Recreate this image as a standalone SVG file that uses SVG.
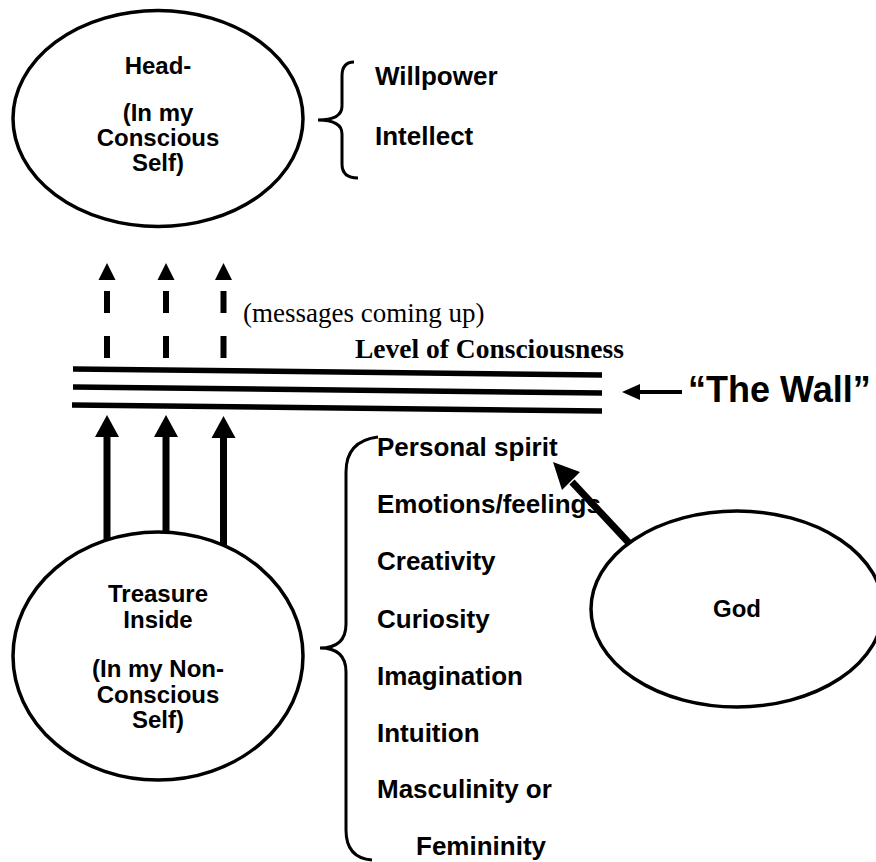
<svg xmlns="http://www.w3.org/2000/svg" width="876" height="862" viewBox="0 0 876 862">
<style>
.node{fill:#fff;stroke:#000;stroke-width:3.5}
.t{font-family:"Liberation Sans",Arial,sans-serif;font-weight:bold;font-size:24px;fill:#000}
.c{text-anchor:middle}
.l{font-size:26px}
.serif{font-family:"Liberation Serif","Times New Roman",serif;fill:#000}
.brace{fill:none;stroke:#000;stroke-width:3}
.wall{stroke:#000;stroke-width:5.5}
.shaft{stroke:#000;stroke-width:7}
.dash{stroke:#000;stroke-width:6}
</style>
<rect width="876" height="862" fill="#fff"/>
<g id="connectors">
  <line class="wall" x1="73" y1="369" x2="602" y2="375"/>
  <line class="wall" x1="73" y1="387" x2="602" y2="393"/>
  <line class="wall" x1="72" y1="405" x2="602" y2="411"/>
  <line class="shaft" x1="107" y1="435" x2="107" y2="545"/>
  <polygon points="107,415 95,437 119,437"/>
  <line class="shaft" x1="166" y1="435" x2="166" y2="540"/>
  <polygon points="166,415 154,437 178,437"/>
  <line class="shaft" x1="223.5" y1="435" x2="223.5" y2="550"/>
  <polygon points="223.5,416 211.5,438 235.5,438"/>
  <line class="dash" x1="107" y1="291" x2="107" y2="313"/>
  <line class="dash" x1="107" y1="336" x2="107" y2="358"/>
  <polygon points="107,263 98.5,280 115.5,280"/>
  <line class="dash" x1="166" y1="291" x2="166" y2="313"/>
  <line class="dash" x1="166" y1="336" x2="166" y2="358"/>
  <polygon points="166,263 157.5,280 174.5,280"/>
  <line class="dash" x1="223.5" y1="291" x2="223.5" y2="313"/>
  <line class="dash" x1="223.5" y1="336" x2="223.5" y2="358"/>
  <polygon points="223.5,263 215,280 232,280"/>
  <line class="shaft" x1="630" y1="544" x2="572" y2="482"/>
  <polygon points="553,462 580,472 562,490"/>
  <line stroke="#000" stroke-width="4" x1="636" y1="392" x2="682" y2="392"/>
  <polygon points="622,392 640,384 640,400"/>
  <path class="brace" d="M354,62 Q342,62 342,76 L342,106 Q342,120 318,120 Q342,120 342,134 L342,164 Q342,178 358,178"/>
  <path class="brace" d="M378,437 Q346,441 346,472 L346,624 Q346,648 320,648 Q346,648 346,672 L346,830 Q346,858 372,860"/>
</g>
<g id="head">
  <ellipse class="node" cx="158" cy="118.5" rx="145" ry="108"/>
  <text class="t c" x="158" y="74">Head-</text>
  <text class="t c" x="158" y="121">(In my</text>
  <text class="t c" x="158" y="146">Conscious</text>
  <text class="t c" x="158" y="171">Self)</text>
</g>
<g id="head-list">
  <text class="t l" x="375" y="85">Willpower</text>
  <text class="t l" x="375" y="145">Intellect</text>
</g>
<g id="treasure">
  <ellipse class="node" cx="158" cy="656" rx="145" ry="124"/>
  <text class="t c" x="158" y="602">Treasure</text>
  <text class="t c" x="158" y="628">Inside</text>
  <text class="t c" x="158" y="677">(In my Non-</text>
  <text class="t c" x="158" y="703">Conscious</text>
  <text class="t c" x="158" y="728">Self)</text>
</g>
<g id="god">
  <ellipse class="node" cx="737" cy="609" rx="146" ry="98"/>
  <text class="t c" x="737" y="617">God</text>
</g>
<g id="treasure-list">
  <text class="t l" x="377" y="456">Personal spirit</text>
  <text class="t l" x="377" y="513">Emotions/feelings</text>
  <text class="t l" x="377" y="570">Creativity</text>
  <text class="t l" x="377" y="628">Curiosity</text>
  <text class="t l" x="377" y="685">Imagination</text>
  <text class="t l" x="377" y="742">Intuition</text>
  <text class="t l" x="377" y="798">Masculinity or</text>
  <text class="t l" x="416" y="855">Femininity</text>
</g>
<g id="labels">
  <text class="serif" x="243" y="322" font-size="27">(messages coming up)</text>
  <text class="serif" x="355" y="358" font-size="27.5" font-weight="bold">Level of Consciousness</text>
  <text class="t" x="688" y="402" style="font-size:36px">“The Wall”</text>
</g>
</svg>
